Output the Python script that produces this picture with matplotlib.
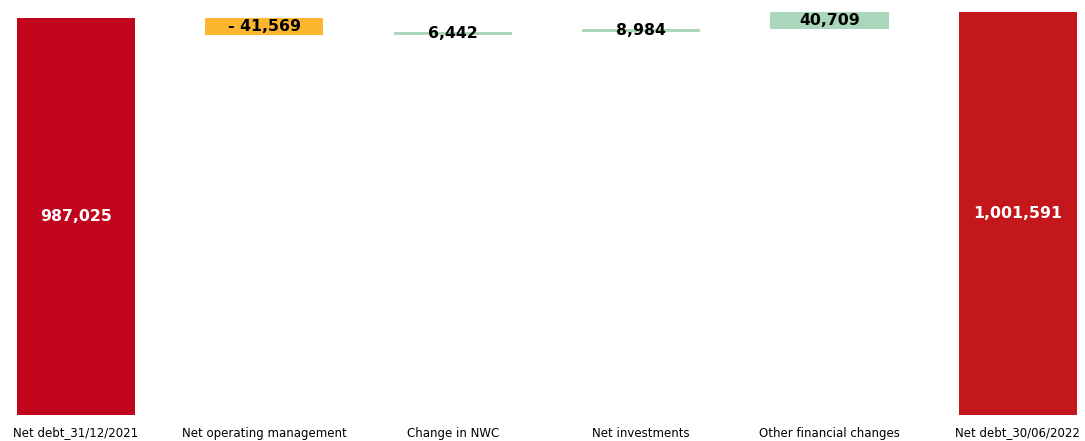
import numpy as np
import matplotlib.pyplot as plt

# net debt bridge, values in thousands
categories = ['Net debt_31/12/2021', 'Net operating management', 'Change in NWC',
              'Net investments', 'Other financial changes', 'Net debt_30/06/2022']
opening = 987025
changes = [-41569, 6442, 8984, 40709]
closing = 1001591
labels = ['987,025', '- 41,569', '6,442', '8,984', '40,709', '1,001,591']

colors = ['#c1051d', '#fbb52f', '#aad6bb', '#aad6bb', '#aad6bb', '#c4171b']
label_colors = ['white', 'black', 'black', 'black', 'black', 'white']

# bottoms and heights of each bar
bottoms = [0]
heights = [opening]
level = opening
for c in changes:
    if c < 0:
        bottoms.append(level + c)
        heights.append(-c)
    else:
        bottoms.append(level)
        heights.append(c)
    level += c
bottoms.append(0)
heights.append(closing)

fig = plt.figure(figsize=(10.85, 4.41), dpi=100)
ax = fig.add_axes([0, 26 / 441, 1, 415 / 441])

x = np.arange(len(categories))
ax.bar(x, heights, bottom=bottoms, width=0.627, color=colors)

for i in range(len(x)):
    ax.text(x[i], bottoms[i] + heights[i] / 2, labels[i], ha='center', va='center',
            fontsize=11.3, fontweight='bold', color=label_colors[i], family='DejaVu Sans')

ax.set_xlim(-0.403, 5.356)
ax.set_ylim(0, 1031780)
ax.set_yticks([])
ax.set_xticks(x)
ax.set_xticklabels(categories, fontsize=8.5, family='DejaVu Sans')
ax.tick_params(axis='x', length=0, pad=15.5)
for t in ax.get_xticklabels():
    t.set_va('baseline')
for s in ax.spines.values():
    s.set_visible(False)

fig.savefig('out.png', dpi=100)
